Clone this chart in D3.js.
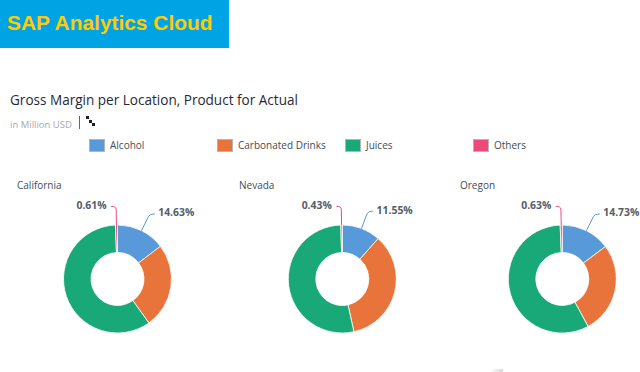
<!DOCTYPE html>
<html>
<head>
<meta charset="utf-8">
<title>Gross Margin per Location, Product for Actual</title>
<script src="https://cdn.jsdelivr.net/npm/d3@7"></script>
<style>
  html, body { margin: 0; padding: 0; background: #fff; }
  svg { display: block; }
  text { font-family: "Open Sans", sans-serif; }
</style>
</head>
<body>
<div id="chart"></div>
<script>
// Data
const products = ["Alcohol", "Carbonated Drinks", "Juices", "Others"];
const locations = ["California", "Nevada", "Oregon"];
const alcohol = [14.63, 11.55, 14.73];
const carbonated = [25.5, 35.0, 27.35];
const juices = [59.26, 53.02, 57.29];
const others = [0.61, 0.43, 0.63];

const colors = ["#5899da", "#e8743b", "#19a979", "#ed4a7b"];
const width = 640, height = 372;
const outer = 54, inner = 26.5, elbow = 72.7;

const svg = d3.select("#chart").append("svg")
    .attr("width", width)
    .attr("height", height);

// Banner
svg.append("rect")
    .attr("width", 229)
    .attr("height", 48)
    .attr("fill", "#00a4e4");
svg.append("text")
    .attr("x", 7)
    .attr("y", 30)
    .attr("fill", "#ffcb05")
    .style("font-family", '"Liberation Sans", sans-serif')
    .style("font-weight", "bold")
    .style("font-size", "20.9px")
    .text("SAP Analytics Cloud");

// Header
svg.append("text")
    .attr("x", 10)
    .attr("y", 105)
    .attr("fill", "#1f2a36")
    .style("font-size", "13.55px")
    .text("Gross Margin per Location, Product for Actual");
svg.append("text")
    .attr("x", 10)
    .attr("y", 128)
    .attr("fill", "#a9a9a9")
    .style("font-size", "9.5px")
    .text("in Million USD");
svg.append("line")
    .attr("x1", 79.5).attr("x2", 79.5)
    .attr("y1", 116).attr("y2", 129)
    .attr("stroke", "#666");

// Small hierarchy icon next to the unit
const icon = svg.append("g").attr("fill", "#1c1c2a");
[[86, 116], [89, 120], [92, 123]].forEach(p => {
    icon.append("rect").attr("x", p[0]).attr("y", p[1]).attr("width", 3).attr("height", 3);
});

// Legend
const legendX = d3.scalePoint().domain(products).range([89, 473]);
const legend = svg.selectAll(".legend").data(products).enter().append("g")
    .attr("class", "legend")
    .attr("transform", d => `translate(${legendX(d)},139)`);
legend.append("rect")
    .attr("x", 0.5).attr("y", 0.5)
    .attr("width", 15).attr("height", 12)
    .attr("fill", (d, i) => colors[i])
    .attr("stroke", "#b5b5b5");
legend.append("text")
    .attr("x", 21)
    .attr("y", 10)
    .attr("fill", "#444c55")
    .style("font-size", "10px")
    .text(d => d);

// Facets
const titleX = [17, 239, 460];
const centerX = [117.5, 342.3, 562.3];
const centerY = 279;

const pie = d3.pie().sort(null);
const arc = d3.arc().innerRadius(inner).outerRadius(outer);

function leader(mid, dir) {
    const sx = Math.sin(mid), cy = -Math.cos(mid);
    const p = d3.path();
    p.moveTo(outer * sx, outer * cy);
    const ex = elbow * sx, ey = elbow * cy;
    p.lineTo(ex - sx * 3, ey - cy * 3);
    p.quadraticCurveTo(ex, ey, ex + dir * 5, ey);
    return p.toString();
}

locations.forEach((loc, k) => {
    const values = [alcohol[k], carbonated[k], juices[k], others[k]];
    const arcs = pie(values);

    svg.append("text")
        .attr("x", titleX[k])
        .attr("y", 189)
        .attr("fill", "#444c55")
        .style("font-size", "10px")
        .text(loc);

    const g = svg.append("g").attr("transform", `translate(${centerX[k]},${centerY})`);
    g.selectAll("path.slice").data(arcs).enter().append("path")
        .attr("class", "slice")
        .attr("d", arc)
        .attr("fill", (d, i) => colors[i])
        .attr("stroke", "#fff")
        .attr("stroke-width", 0.8);

    // Only Alcohol and Others carry a label
    [[0, 1], [3, -1]].forEach(([i, dir]) => {
        const mid = (arcs[i].startAngle + arcs[i].endAngle) / 2;
        g.append("path")
            .attr("d", leader(mid, dir))
            .attr("fill", "none")
            .attr("stroke", colors[i])
            .attr("stroke-width", 1);
        g.append("text")
            .attr("x", elbow * Math.sin(mid) + dir * (dir > 0 ? 8.5 : 9.5))
            .attr("y", -elbow * Math.cos(mid) + 2.5)
            .attr("text-anchor", dir > 0 ? "start" : "end")
            .attr("fill", "#555d66")
            .style("font-size", "10.4px")
            .style("font-weight", "bold")
            .text(values[i].toFixed(2) + "%");
    });
});

// Faint grey smudge on the bottom edge of the screenshot
const fade = svg.append("defs").append("linearGradient").attr("id", "fade");
fade.append("stop").attr("offset", 0).attr("stop-color", "#fff");
fade.append("stop").attr("offset", 1).attr("stop-color", "#d8d8d8");
svg.append("rect")
    .attr("x", 490).attr("y", 369)
    .attr("width", 13).attr("height", 3)
    .attr("fill", "url(#fade)");
</script>
</body>
</html>
